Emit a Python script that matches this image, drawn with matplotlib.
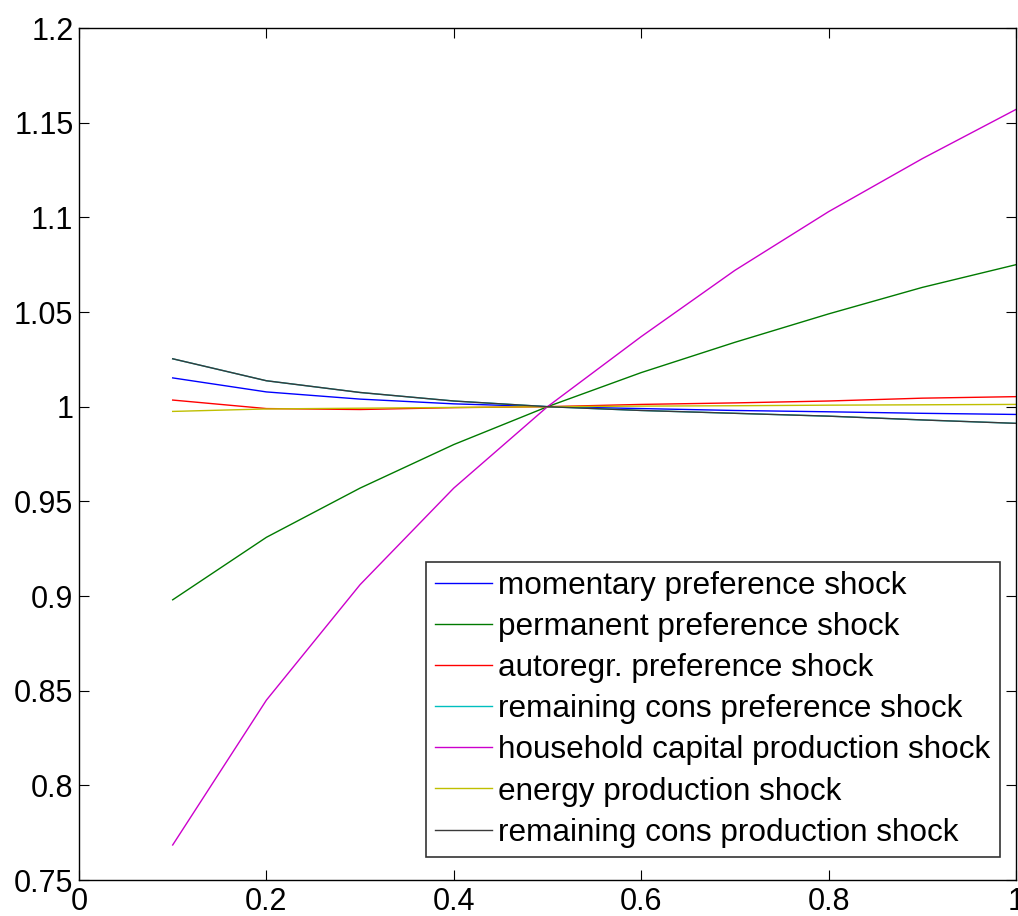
import matplotlib
matplotlib.use("Agg")
import matplotlib.pyplot as plt

# shock scaling factor (x) and relative response of each shock series
x = [0.1, 0.2, 0.3, 0.4, 0.5, 0.6, 0.7, 0.8, 0.9, 1.0]
momentary = [1.0152, 1.0078, 1.0040, 1.0015, 1.0, 0.9990, 0.9980, 0.9973, 0.9965, 0.9959]
permanent = [0.898, 0.931, 0.957, 0.980, 1.0, 1.018, 1.034, 1.049, 1.063, 1.075]
autoregr = [1.0035, 0.9990, 0.9985, 0.9995, 1.0, 1.0012, 1.0020, 1.0030, 1.0045, 1.0053]
rem_cons_pref = [1.0253, 1.0137, 1.0075, 1.0030, 1.0, 0.9980, 0.9965, 0.9950, 0.9930, 0.9912]
hh_capital = [0.7685, 0.845, 0.906, 0.957, 1.0, 1.037, 1.072, 1.103, 1.131, 1.157]
energy = [0.9975, 0.9988, 0.9992, 0.9996, 1.0, 1.0003, 1.0005, 1.0008, 1.0010, 1.0012]
rem_cons_prod = [1.0253, 1.0137, 1.0075, 1.0030, 1.0, 0.9980, 0.9965, 0.9950, 0.9930, 0.9912]

labels = ["momentary preference shock", "permanent preference shock",
          "autoregr. preference shock", "remaining cons preference shock",
          "household capital production shock", "energy production shock",
          "remaining cons production shock"]
series = [momentary, permanent, autoregr, rem_cons_pref, hh_capital, energy, rem_cons_prod]
colors = ["#0000ff", "#007a00", "#ff0000", "#00bfbf", "#cc00cc", "#bfbf00", "#3a3a3a"]

xticks = [0, 0.2, 0.4, 0.6, 0.8, 1]
xticklabels = ["0", "0.2", "0.4", "0.6", "0.8", "1"]
yticks = [0.75, 0.8, 0.85, 0.9, 0.95, 1, 1.05, 1.1, 1.15, 1.2]
yticklabels = ["0.75", "0.8", "0.85", "0.9", "0.95", "1", "1.05", "1.1", "1.15", "1.2"]

plt.rcParams["font.family"] = ["Liberation Sans", "DejaVu Sans"]

fig = plt.figure(figsize=(10.18, 9.16), dpi=100)
fig.patch.set_facecolor("white")
ax = fig.add_axes([0.0776, 0.0393, 0.9204, 0.9301])

for ys, c, lab in zip(series, colors, labels):
    ax.plot(x, ys, color=c, lw=1.0, label=lab)

ax.set_xlim(0, 1)
ax.set_ylim(0.75, 1.2)
ax.set_xticks(xticks)
ax.set_xticklabels(xticklabels, fontsize=22)
ax.set_yticks(yticks)
ax.set_yticklabels(yticklabels, fontsize=22)
ax.tick_params(direction="in", length=7, width=0.8, top=True, right=True)
ax.tick_params(axis="x", pad=5)
ax.tick_params(axis="y", pad=4)
for s in ax.spines.values():
    s.set_linewidth(1.0)

lg = ax.legend(loc="lower right", bbox_to_anchor=(0.983, 0.027), fontsize=22.7,
               frameon=True, fancybox=False, edgecolor="black", handlelength=1.8,
               handletextpad=0.2, labelspacing=0.35, borderpad=0.3, borderaxespad=0)
lg.get_frame().set_linewidth(1.2)

fig.savefig("out.png", dpi=100, facecolor="white")
